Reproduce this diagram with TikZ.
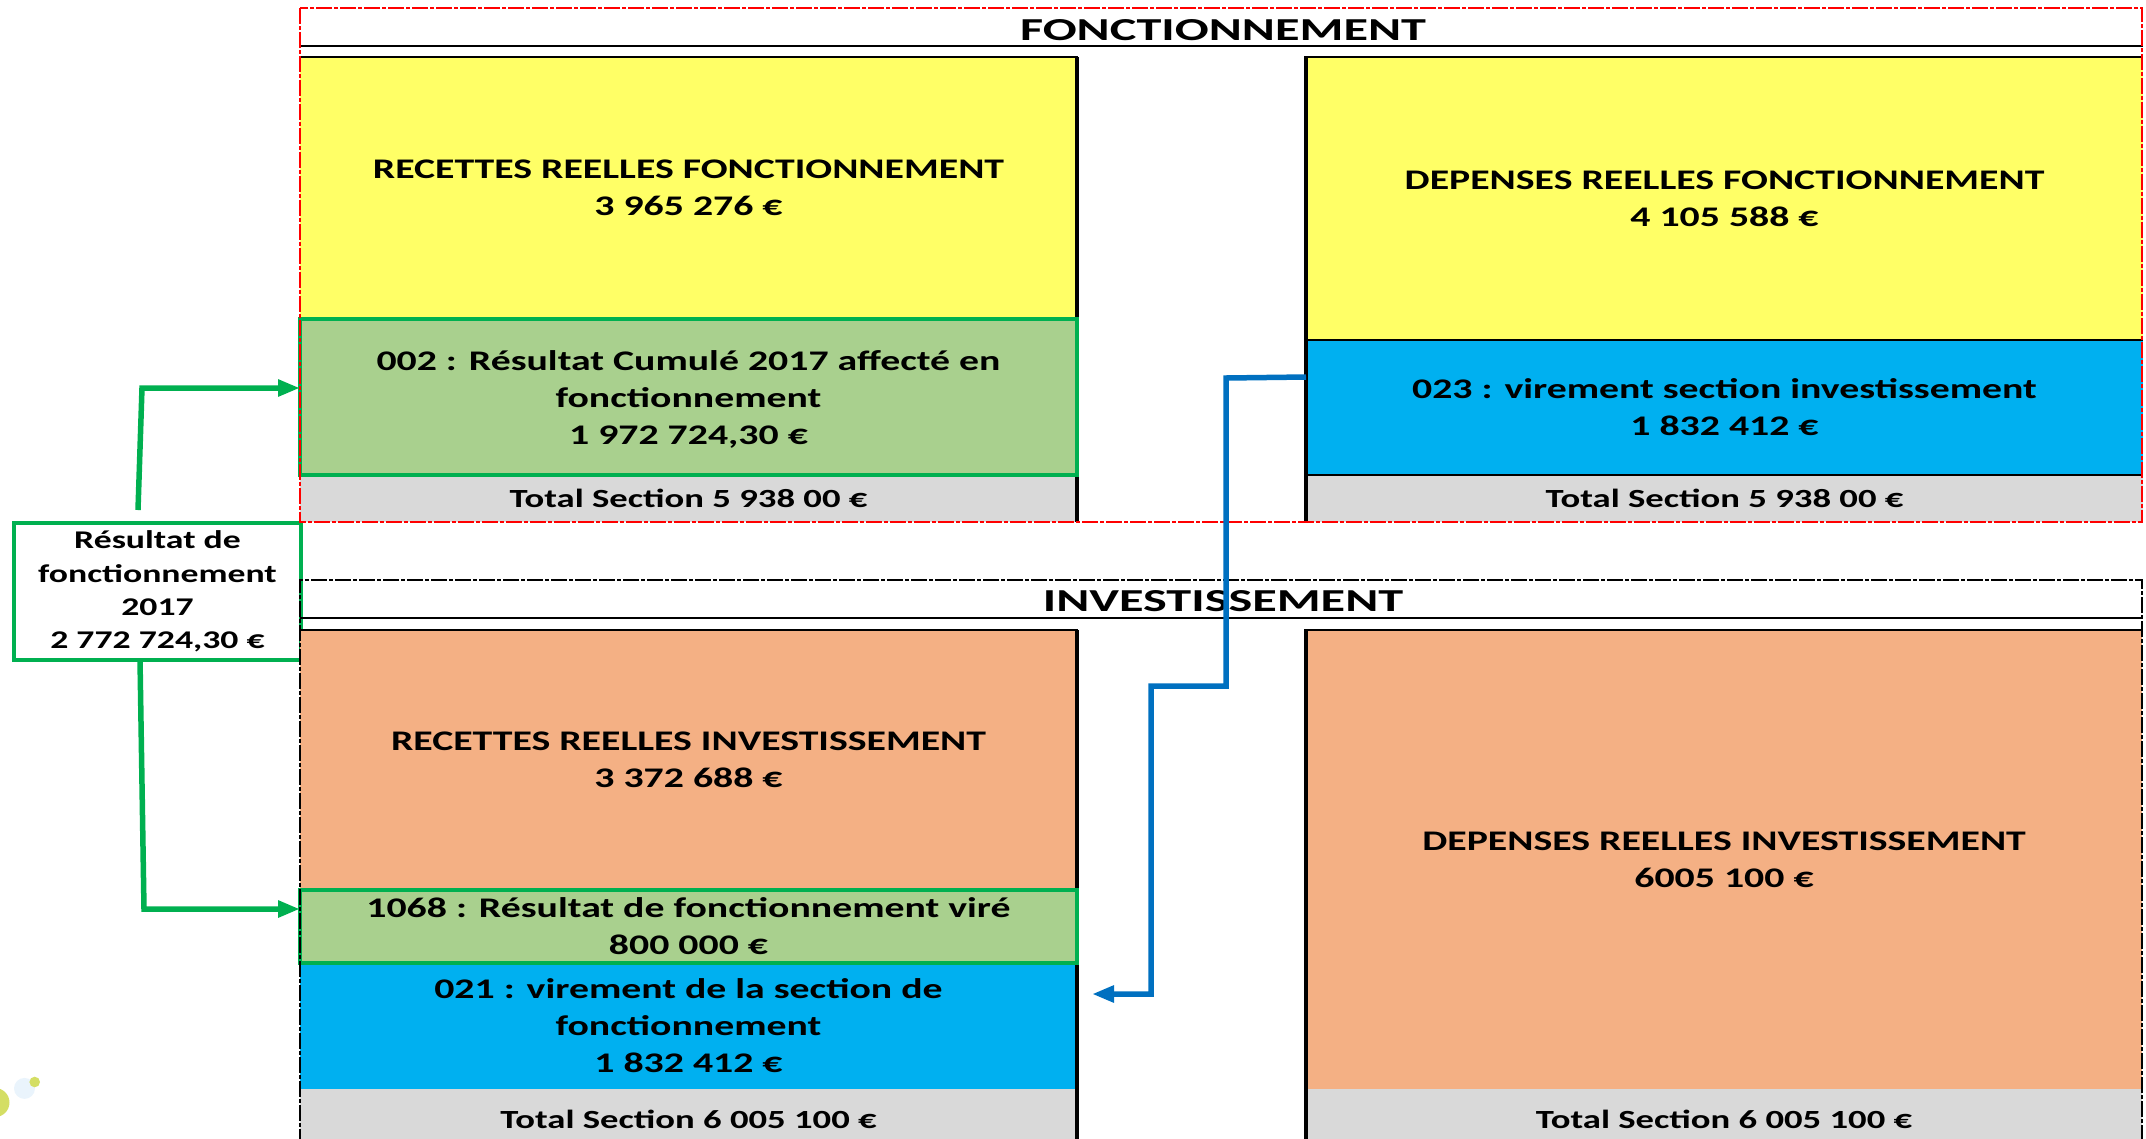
\documentclass[tikz,border=0pt]{standalone}
\usepackage{fontspec}
\setmainfont{Carlito}[FakeStretch=1.4]
\newfontfamily\titlefont{Carlito}[FakeStretch=1.57]
\usetikzlibrary{arrows.meta,calc}
\definecolor{cyel}{RGB}{255,255,102}
\definecolor{cgreenfill}{RGB}{169,208,142}
\definecolor{cgreen}{RGB}{0,176,80}
\definecolor{cblue}{RGB}{0,176,240}
\definecolor{corange}{RGB}{244,176,132}
\definecolor{cgray}{RGB}{217,217,217}
\definecolor{cline}{RGB}{0,112,192}
\definecolor{clogo}{RGB}{212,222,100}
\definecolor{clogob}{RGB}{234,244,252}
\begin{document}
\begin{tikzpicture}[x=1pt,y=-1pt,
  cell/.style={anchor=north west, inner sep=0pt, outer sep=0pt, draw=none, align=center,
    font=\bfseries\fontsize{28.4}{37}\selectfont},
  totcell/.style={cell, font=\bfseries\fontsize{26.2}{30}\selectfont},
  blkh/.style={line width=2.8pt, black},
  blkv/.style={line width=4pt, black},
  grnb/.style={line width=3.2pt, draw=cgreen},
  sect/.style={line width=2pt, dash pattern=on 16pt off 2pt on 4pt off 2pt},
  conn/.style={line width=5.5pt, -{Triangle[length=22pt,width=16pt]}},
  ttl/.style={inner sep=0pt, font=\titlefont\bfseries\fontsize{32}{36}\selectfont},
]
\useasboundingbox (0,0) rectangle (2146,1138);

% logo fragment
\fill[clogo] (-5,1102.5) circle (14.5pt);
\fill[clogob] (24.5,1088.4) circle (10.5pt);
\fill[clogo] (34.7,1082) circle (5.3pt);

% result box
\node[draw=cgreen, line width=3.2pt, fill=white, minimum width=287pt, minimum height=137pt,
  inner sep=0pt, align=center, font=\bfseries\fontsize{25.5}{33.3}\selectfont] (res) at (157.5,591.5)
  {Résultat de\\fonctionnement\\2017\\2 772 724,30 €};

% ---------------- FONCTIONNEMENT ----------------
\node[cell, fill=cyel, minimum width=777pt, minimum height=262pt] (rrf) at (300,57)
  {RECETTES REELLES FONCTIONNEMENT\\3 965 276 €};
\node[cell, fill=cgreenfill, minimum width=777pt, minimum height=156pt] (r002) at (300,319)
  {\rule{0pt}{24pt}002 : Résultat Cumulé 2017 affecté en\\fonctionnement\\1 972 724,30 €};
\node[totcell, fill=cgray, minimum width=777pt, minimum height=47pt] (tf1) at (300,475)
  {Total Section 5 938 00 €};
\node[cell, fill=cyel, minimum width=837pt, minimum height=283pt] (drf) at (1306,57)
  {DEPENSES REELLES FONCTIONNEMENT\\4 105 588 €};
\node[cell, fill=cblue, minimum width=837pt, minimum height=135pt] (r023) at (1306,340)
  {023 : virement section investissement\\1 832 412 €};
\node[totcell, fill=cgray, minimum width=837pt, minimum height=47pt] (tf2) at (1306,475)
  {Total Section 5 938 00 €};
\node[ttl] (tfonc) at (1223,30.4) {FONCTIONNEMENT};

\draw[blkh] (300,46) -- (2143,46);
\draw[blkh] (300,57) -- (1078,57);
\draw[blkh] (1304,57) -- (2143,57);
\draw[blkv] (1077,57) -- (1077,522);
\draw[blkv] (1306,57) -- (1306,522);
\draw[blkh] (1306,340) -- (2143,340);
\draw[blkh] (1306,475) -- (2143,475);
\draw[grnb] (r002.north west) rectangle (r002.south east);
\draw[sect, red] (300,8) rectangle (2142,522);

% ---------------- INVESTISSEMENT ----------------
\node[cell, fill=corange, minimum width=777pt, minimum height=260pt] (rri) at (300,630)
  {RECETTES REELLES INVESTISSEMENT\\3 372 688 €};
\node[cell, fill=cgreenfill, minimum width=777pt, minimum height=73pt] (r1068) at (300,890)
  {1068 : Résultat de fonctionnement viré\\800 000 €};
\node[cell, fill=cblue, minimum width=777pt, minimum height=126pt] (r021) at (300,963)
  {021 : virement de la section de\\fonctionnement\\1 832 412 €};
\node[totcell, fill=cgray, minimum width=777pt, minimum height=60pt] (ti1) at (300,1089)
  {Total Section 6 005 100 €};
\node[cell, fill=corange, minimum width=836pt, minimum height=459pt] (dri) at (1306,630)
  {DEPENSES REELLES INVESTISSEMENT\\6005 100 €};
\node[totcell, fill=cgray, minimum width=836pt, minimum height=60pt] (ti2) at (1306,1089)
  {Total Section 6 005 100 €};
\node[ttl] (tinv) at (1223,601.3) {INVESTISSEMENT};

\draw[blkh] (300,618) -- (2143,618);
\draw[blkh] (300,630) -- (1078,630);
\draw[blkh] (1304,630) -- (2143,630);
\draw[blkv] (1077,630) -- (1077,1145);
\draw[blkv] (1306,630) -- (1306,1145);
\draw[grnb] (r1068.north west) rectangle (r1068.south east);
\draw[sect, black] (300,1145) -- (300,580) -- (2142,580) -- (2142,1145);

% ---------------- connectors ----------------
\coordinate (gA) at (138,510);
\coordinate (gB) at (142,388);
\draw[conn, cgreen] (gA) -- (gB) -- (gB -| r002.west);
\coordinate (gC) at (140,659);
\coordinate (gD) at (144,909);
\draw[conn, cgreen] (gC) -- (gD) -- (gD -| r1068.west);
\coordinate (bA) at (1226,378);
\coordinate (bB) at (1226,686);
\coordinate (bC) at (1151,686);
\coordinate (bD) at (1151,994);
\coordinate (bE) at (1092,994);
\draw[conn, cline] (r023.west |- 0,377) -- (bA) -- (bB) -- (bC) -- (bD) -- (bE);
\end{tikzpicture}
\end{document}
